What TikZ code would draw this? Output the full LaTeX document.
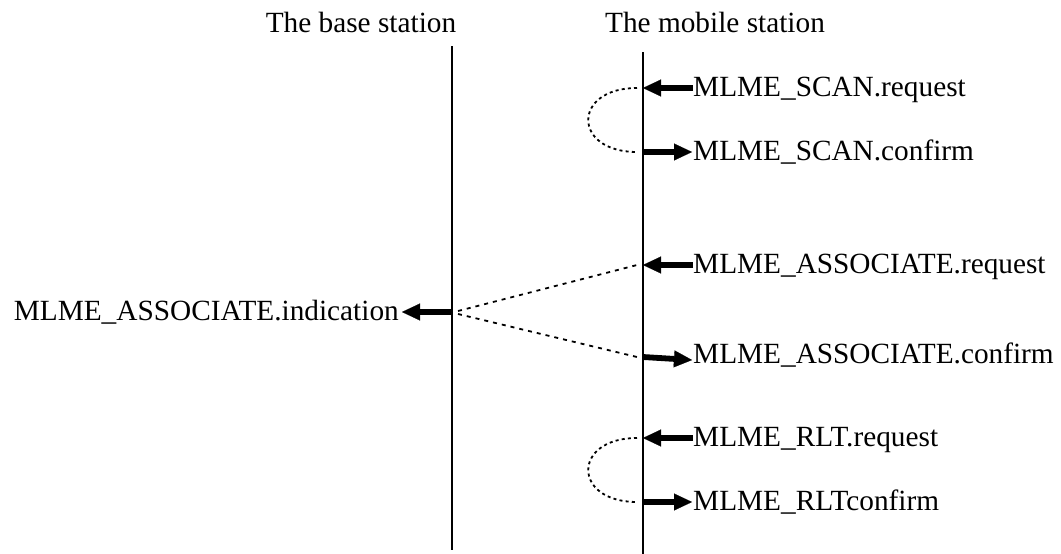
\documentclass[tikz,border=0pt]{standalone}
\usepackage{fontspec}
\setmainfont{Liberation Serif}
\usetikzlibrary{arrows.meta}
\begin{document}
\begin{tikzpicture}[x=1pt,y=-1pt,
  font=\fontsize{29.3}{34}\selectfont,
  lifeline/.style={line width=2pt},
  msg/.style={line width=5.8pt,-{Triangle[length=18pt,width=17pt,line width=0.1pt]}},
  lbl/.style={anchor=base west,inner sep=0pt},
  lbr/.style={anchor=base east,inner sep=0pt},
  ttl/.style={anchor=base,inner sep=0pt},
  dots/.style={line width=1.8pt,dash pattern=on 3pt off 3.2pt},
  dline/.style={line width=1.8pt,dash pattern=on 4pt off 5pt}]
\useasboundingbox (0,0) rectangle (1061,554);
% titles
\node[ttl] (bs) at (361,32) {The base station};
\node[ttl] (ms) at (715,32) {The mobile station};
% lifelines
\coordinate (bstop) at (452,46);
\coordinate (bsbot) at (452,550);
\coordinate (mstop) at (643,52);
\coordinate (msbot) at (643,554);
\draw[lifeline] (bstop) -- (bsbot);
\draw[lifeline] (mstop) -- (msbot);
% labels
\node[lbl] (scanreq) at (693,96) {MLME\_SCAN.request};
\node[lbl] (scancnf) at (693,160) {MLME\_SCAN.confirm};
\node[lbl] (assreq) at (693,273) {MLME\_ASSOCIATE.request};
\node[lbl] (asscnf) at (693,363) {MLME\_ASSOCIATE.confirm};
\node[lbr] (assind) at (399,320) {MLME\_ASSOCIATE.indication};
\node[lbl] (rltreq) at (693,446) {MLME\_RLT.request};
\node[lbl] (rltcnf) at (693,510) {MLME\_RLTconfirm};
% points on lifelines
\coordinate (p1) at (643,88);
\coordinate (p2) at (643,152);
\coordinate (p3) at (643,265);
\coordinate (p4) at (643,357);
\coordinate (p5) at (452,312);
\coordinate (p6) at (643,438);
\coordinate (p7) at (643,502);
% arrows
\draw[msg] (scanreq.west |- p1) -- (p1);
\draw[msg] (p2) -- ([xshift=-1pt]scancnf.west |- p2);
\draw[msg] (assreq.west |- p3) -- (p3);
\draw[msg] (p4) -- ([xshift=-1pt,yshift=-3pt]asscnf.west |- p4);
\draw[msg] (p5) -- ([xshift=3pt]assind.east |- p5);
\draw[msg] (rltreq.west |- p6) -- (p6);
\draw[msg] (p7) -- ([xshift=-1pt]rltcnf.west |- p7);
% dotted loops
\coordinate (a1) at (637,88);
\coordinate (a2) at (637,152);
\coordinate (a3) at (637,438);
\coordinate (a4) at (637,502);
\draw[dots] (a1) .. controls (572,88) and (572,152) .. (a2);
\draw[dots] (a3) .. controls (572,438) and (572,502) .. (a4);
% dotted associate lines
\coordinate (s1) at (458,311);
\coordinate (s2) at (458,314);
\coordinate (e1) at (637,265);
\coordinate (e2) at (637,357);
\draw[dline] (s1) -- (e1);
\draw[dline] (s2) -- (e2);
\end{tikzpicture}
\end{document}
